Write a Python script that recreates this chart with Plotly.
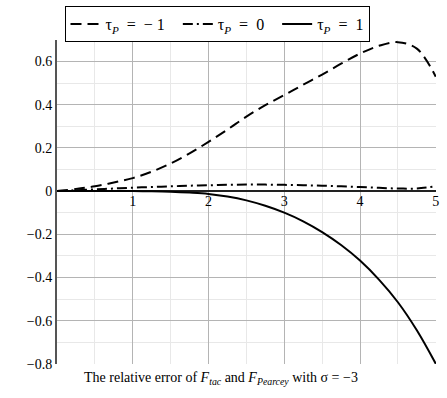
import plotly.graph_objects as go

# data
x_vals = [0, 0.25, 0.5, 0.75, 1, 1.25, 1.5, 1.75, 2, 2.25, 2.5, 2.75, 3,
          3.25, 3.5, 3.75, 4, 4.25, 4.5, 4.75, 5]
y_m1 = [0, 0.01, 0.022, 0.04, 0.06, 0.09, 0.128, 0.175, 0.228, 0.285, 0.345, 0.398, 0.445,
        0.493, 0.54, 0.59, 0.637, 0.673, 0.69, 0.66, 0.53]
y_0 = [0, 0.004, 0.008, 0.012, 0.016, 0.019, 0.022, 0.025, 0.027, 0.029, 0.03, 0.03, 0.029,
       0.027, 0.025, 0.022, 0.019, 0.015, 0.012, 0.012, 0.022]
y_1 = [0, 0, 0, 0, 0, -0.001, -0.003, -0.007, -0.013, -0.025, -0.043, -0.068, -0.1,
       -0.14, -0.19, -0.25, -0.322, -0.41, -0.515, -0.645, -0.80]

NB = "\u00a0"
names = [f"τ<sub><i>P</i></sub>{NB}{NB}={NB}{NB}−{NB}1{NB}{NB}",
         f"τ<sub><i>P</i></sub>{NB}{NB}={NB}{NB}0{NB}{NB}",
         f"τ<sub><i>P</i></sub>{NB}{NB}={NB}{NB}1"]

x_ticks = [1, 2, 3, 4, 5]
x_ticktext = ["1", "2", "3", "4", "5"]
y_ticks = [-0.8, -0.6, -0.4, -0.2, 0, 0.2, 0.4, 0.6]
y_ticktext = ["−0.8", "−0.6", "−0.4", "−0.2", "0", "0.2", "0.4", "0.6"]

title_text = ("The relative error of <i>F</i><sub><i>tac</i></sub> and "
              "<i>F</i><sub><i>Pearcey</i></sub> with σ = −3")

FONT = "Liberation Serif"

fig = go.Figure()
fig.add_trace(go.Scatter(x=x_vals, y=y_m1, mode="lines", name=names[0], line_shape="spline",
                         line=dict(color="black", width=2, dash="11px,6px")))
fig.add_trace(go.Scatter(x=x_vals, y=y_0, mode="lines", name=names[1], line_shape="spline",
                         line=dict(color="black", width=2, dash="10px,4px,2px,4px")))
fig.add_trace(go.Scatter(x=x_vals, y=y_1, mode="lines", name=names[2], line_shape="spline",
                         line=dict(color="black", width=2)))

y_lo, y_hi = -0.801, 0.70
zero_pos = (0 - y_lo) / (y_hi - y_lo)

fig.update_layout(
    width=447, height=398,
    margin=dict(l=57, r=11, t=40, b=34, autoexpand=False),
    paper_bgcolor="white", plot_bgcolor="white",
    font=dict(family=FONT, size=14, color="black"),
    showlegend=True,
    legend=dict(orientation="h", xref="container", yref="container",
                x=217 / 447, xanchor="center", y=1 - 6 / 398, yanchor="top",
                bordercolor="black", borderwidth=1, font=dict(family=FONT, size=16),
                itemwidth=30, tracegroupgap=0),
    xaxis=dict(range=[0, 5.003], tickvals=x_ticks, ticktext=x_ticktext,
               anchor="free", position=zero_pos, showline=False, zeroline=False,
               automargin=False,
               showgrid=True, gridcolor="#b4b4b4", gridwidth=1,
               minor=dict(dtick=0.5, tick0=0, showgrid=True, gridcolor="#e8e8e8", gridwidth=1),
               ticks="", tickfont=dict(family=FONT, size=14)),
    yaxis=dict(range=[y_lo, y_hi], tickvals=y_ticks, ticktext=y_ticktext,
               showline=True, linecolor="#555555", linewidth=2, automargin=False,
               zeroline=True, zerolinecolor="#222222", zerolinewidth=1.5,
               showgrid=True, gridcolor="#b4b4b4", gridwidth=1,
               minor=dict(dtick=0.1, tick0=0, showgrid=True, gridcolor="#e8e8e8", gridwidth=1),
               ticks="", tickfont=dict(family=FONT, size=14)),
    annotations=[dict(text=title_text, xref="paper", yref="paper", x=0.433, y=-0.045,
                      xanchor="center", yanchor="middle", showarrow=False,
                      font=dict(family=FONT, size=14))],
)

fig.write_html("out.html", config={"displayModeBar": False},
               post_script="document.body.style.margin='0';document.body.style.padding='0';")
